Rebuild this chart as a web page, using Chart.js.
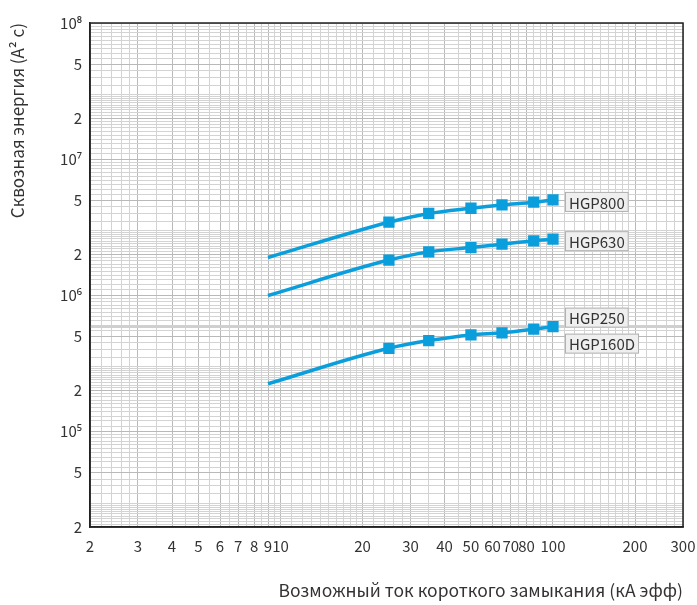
<!DOCTYPE html>
<html>
<head>
<meta charset="utf-8">
<script src="https://cdn.jsdelivr.net/npm/chart.js@4/dist/chart.umd.min.js"></script>
<style>
  html, body { margin: 0; padding: 0; background: #fff; }
  #wrap { width: 697px; height: 605px; }
</style>
</head>
<body>
<div id="wrap"><canvas id="chart" width="697" height="605"></canvas></div>
<script>
// x: prospective short-circuit current, kA
const current = [9, 25, 35, 50, 65, 85, 100];
// y: let-through energy, A^2 s
const hgp800 = [1.9e6, 3.45e6, 4.0e6, 4.37e6, 4.62e6, 4.84e6, 5.03e6];
const hgp630 = [1.0e6, 1.82e6, 2.09e6, 2.25e6, 2.38e6, 2.52e6, 2.59e6];
const hgp250 = [2.25e5, 4.1e5, 4.67e5, 5.14e5, 5.32e5, 5.66e5, 5.91e5];
const refLevel = 5.9e5;

const xTickValues = [2, 3, 4, 5, 6, 7, 8, 9, 10, 20, 30, 40, 50, 60, 70, 80, 100, 200, 300];
const xTickText = ["2", "3", "4", "5", "6", "7", "8", "9", "10", "20", "30", "40", "50", "60", "70", "80", "100", "200", "300"];
const yTickValues = [2e4, 5e4, 1e5, 2e5, 5e5, 1e6, 2e6, 5e6, 1e7, 2e7, 5e7, 1e8];
const yTickText = ["2", "5", "10⁵", "2", "5", "10⁶", "2", "5", "10⁷", "2", "5", "10⁸"];

const blue = "#0a9fdc";
const font = "'Noto Sans CJK SC', 'Noto Sans', sans-serif";

// fine grid: list of [from, to, step] within one decade
function gridValues(min, max, steps) {
  const out = [];
  for (let e = Math.floor(Math.log10(min)); e <= Math.ceil(Math.log10(max)); e++) {
    const p = Math.pow(10, e);
    steps.forEach(([a, b, s]) => {
      const n = Math.round((b - a) / s);
      for (let i = 0; i < n; i++) {
        const v = +((a + i * s) * p).toPrecision(6);
        if (v >= min * 0.999 && v <= max * 1.001) out.push(v);
      }
    });
  }
  out.push(max);
  return [...new Set(out)].sort((a, b) => a - b);
}
const xGrid = gridValues(2, 300, [[1, 2, 0.1], [2, 3, 0.2], [3, 10, 0.5]]);
const yGrid = gridValues(2e4, 1e8, [[1, 3, 0.1], [3, 10, 0.5]]);

function findLabel(values, texts, v) {
  const i = values.findIndex((t) => Math.abs(t - v) / t < 1e-6);
  return i >= 0 ? texts[i] : "";
}

const pts = (ys) => current.map((x, i) => ({ x: x, y: ys[i] }));
const radii = current.map((x, i) => (i === 0 ? 0 : 5.5));

function series(label, ys) {
  return {
    label: label,
    data: pts(ys),
    borderColor: blue,
    backgroundColor: blue,
    borderWidth: 3.5,
    pointStyle: "rect",
    pointRadius: radii,
    pointHoverRadius: radii,
    cubicInterpolationMode: "monotone",
  };
}

const boxLabels = {
  id: "boxLabels",
  afterDatasetsDraw(chart) {
    const { ctx, chartArea } = chart;
    // plot frame
    ctx.save();
    ctx.strokeStyle = "#222";
    ctx.lineWidth = 1.5;
    ctx.strokeRect(chartArea.left, chartArea.top, chartArea.right - chartArea.left, chartArea.bottom - chartArea.top);

    const tags = [
      { ds: 0, text: "HGP800", dy: 2 },
      { ds: 1, text: "HGP630", dy: 2 },
      { ds: 2, text: "HGP250", dy: -9 },
      { ds: 2, text: "HGP160D", dy: 17 },
    ];
    ctx.font = "15px " + font;
    ctx.textBaseline = "middle";
    tags.forEach((t) => {
      const meta = chart.getDatasetMeta(t.ds);
      const last = meta.data[meta.data.length - 1];
      const w = ctx.measureText(t.text).width + 8;
      const h = 20;
      const x = last.x + 12;
      const y = last.y + t.dy;
      ctx.fillStyle = "#efefef";
      ctx.fillRect(x, y - h / 2, w, h);
      ctx.strokeStyle = "#b0b0b0";
      ctx.lineWidth = 1;
      ctx.strokeRect(x + 0.5, y - h / 2 + 0.5, w - 1, h - 1);
      ctx.fillStyle = "#333";
      ctx.textAlign = "left";
      ctx.fillText(t.text, x + 4, y + 1);
    });
    ctx.restore();
  },
};

new Chart(document.getElementById("chart").getContext("2d"), {
  type: "line",
  data: {
    datasets: [
      series("HGP800", hgp800),
      series("HGP630", hgp630),
      series("HGP250 / HGP160D", hgp250),
      {
        label: "level",
        data: [{ x: 2, y: refLevel }, { x: 300, y: refLevel }],
        borderColor: "#cfcfcf",
        borderWidth: 2.5,
        pointRadius: 0,
        order: 10,
      },
    ],
  },
  options: {
    responsive: false,
    animation: false,
    layout: { padding: { top: 23, right: 14, left: 0, bottom: 0 } },
    plugins: { legend: { display: false }, tooltip: { enabled: false } },
    scales: {
      x: {
        type: "logarithmic",
        min: 2,
        max: 300,
        afterBuildTicks: (scale) => {
          scale.ticks = xGrid.map((v) => ({ value: v }));
        },
        afterFit: (scale) => {
          scale.height = 78;
          scale.paddingLeft = 0;
          scale.paddingRight = 0;
        },
        grid: {
          drawTicks: false,
          color: (c) => (c.tick && findLabel(xTickValues, xTickText, c.tick.value) ? "#b9b9b9" : "#d3d3d3"),
          lineWidth: 1,
        },
        border: { color: "#222", width: 1.5 },
        ticks: {
          autoSkip: false,
          maxRotation: 0,
          minRotation: 0,
          padding: 10,
          color: "#333",
          font: { family: font, size: 15 },
          callback: (v) => findLabel(xTickValues, xTickText, v),
        },
        title: {
          display: true,
          text: "Возможный ток короткого замыкания (кА эфф)",
          align: "end",
          color: "#333",
          font: { family: font, size: 17.5 },
          padding: { top: 16 },
        },
      },
      y: {
        type: "logarithmic",
        min: 2e4,
        max: 1e8,
        afterBuildTicks: (scale) => {
          scale.ticks = yGrid.map((v) => ({ value: v }));
        },
        afterFit: (scale) => {
          scale.width = 90;
          scale.paddingTop = 0;
          scale.paddingBottom = 0;
        },
        grid: {
          drawTicks: false,
          color: (c) => (c.tick && findLabel(yTickValues, yTickText, c.tick.value) ? "#b9b9b9" : "#d3d3d3"),
          lineWidth: 1,
        },
        border: { color: "#222", width: 1.5 },
        ticks: {
          autoSkip: false,
          padding: 8,
          color: "#333",
          font: { family: font, size: 15 },
          callback: (v) => findLabel(yTickValues, yTickText, v),
        },
        title: {
          display: true,
          text: "Сквозная энергия (A² c)",
          align: "end",
          color: "#333",
          font: { family: font, size: 17 },
          padding: { bottom: 0, top: 7 },
        },
      },
    },
  },
  plugins: [boxLabels],
});
</script>
</body>
</html>
